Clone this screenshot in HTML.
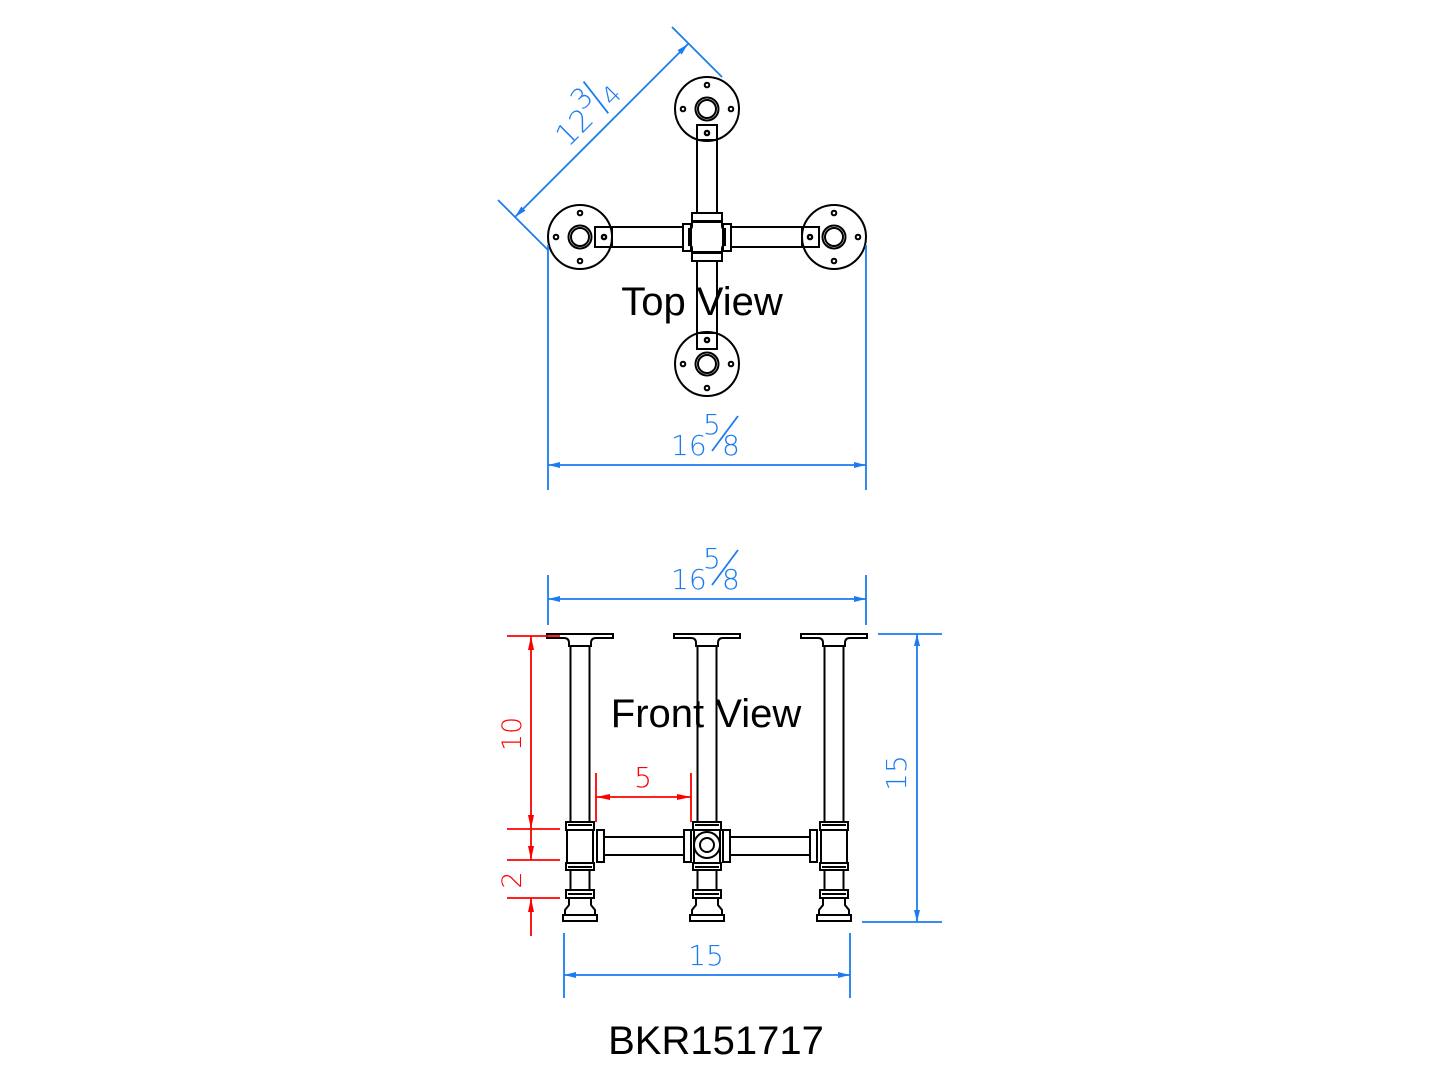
<!DOCTYPE html>
<html><head><meta charset="utf-8"><style>
html,body{margin:0;padding:0;background:#fff;}
svg{display:block;}
.k{fill:none;stroke:#000;stroke-width:2;}
.b{stroke:#1a7cf0;stroke-width:1.8;fill:none;}
.r{stroke:#f00;stroke-width:1.8;fill:none;}
.bt{fill:#1a7cf0;font-family:"DejaVu Sans","Liberation Sans",sans-serif;font-weight:200;}
.rt{fill:#f00;font-family:"DejaVu Sans","Liberation Sans",sans-serif;font-weight:200;}
.tt{fill:#000;font-family:"Liberation Sans",sans-serif;}
</style></head><body>
<svg width="1445" height="1084" viewBox="0 0 1445 1084" xmlns="http://www.w3.org/2000/svg">
<defs>
  <g id="fl">
    <circle class="k" cx="0" cy="0" r="32"/>
    <circle class="k" cx="0" cy="0" r="11.5"/>
    <circle class="k" cx="0" cy="0" r="9"/>
    <circle class="k" cx="-24" cy="0" r="2.3" stroke-width="1.3"/>
    <circle class="k" cx="24" cy="0" r="2.3" stroke-width="1.3"/>
    <circle class="k" cx="0" cy="-24" r="2.3" stroke-width="1.3"/>
    <circle class="k" cx="0" cy="24" r="2.3" stroke-width="1.3"/>
  </g>
  <g id="leg">
    <path class="k" d="M-33,634 H33 V638 H16 Q11,638 11,643 V646 H-11 V643 Q-11,638 -16,638 H-33 Z"/>
    <line class="k" x1="-11" y1="646" x2="11" y2="646"/>
    <line class="k" x1="-9.5" y1="646" x2="-9.5" y2="822"/>
    <line class="k" x1="9.5" y1="646" x2="9.5" y2="822"/>
    <rect class="k" x="-14" y="822" width="28" height="8"/>
    <line class="k" x1="-12" y1="825" x2="12" y2="825" stroke-width="1.2"/>
    <rect class="k" x="-13" y="830" width="26" height="33"/>
    <rect class="k" x="-14" y="863" width="28" height="7"/>
    <line class="k" x1="-12" y1="867" x2="12" y2="867" stroke-width="1.2"/>
    <line class="k" x1="-9.5" y1="870" x2="-9.5" y2="890"/>
    <line class="k" x1="9.5" y1="870" x2="9.5" y2="890"/>
    <rect class="k" x="-14" y="890" width="28" height="8"/>
    <line class="k" x1="-12" y1="894" x2="12" y2="894" stroke-width="1.2"/>
    <path class="k" d="M-11,898 V905 L-15,910 V915 M11,898 V905 L15,910 V915"/>
    <rect class="k" x="-17" y="915" width="34" height="6"/>
  </g>
  <marker id="ab" viewBox="0 0 12 6" refX="12" refY="3" markerWidth="12" markerHeight="6" orient="auto-start-reverse" markerUnits="userSpaceOnUse"><path d="M0,0 L12,3 L0,6 Z" fill="#1a7cf0"/></marker>
  <marker id="ar" viewBox="0 0 14 6" refX="14" refY="3" markerWidth="14" markerHeight="6" orient="auto-start-reverse" markerUnits="userSpaceOnUse"><path d="M0,0 L14,3 L0,6 Z" fill="#f00"/></marker>
</defs>

<!-- TOP VIEW -->
<use href="#fl" x="707" y="109"/>
<use href="#fl" x="580" y="237"/>
<use href="#fl" x="834" y="237"/>
<use href="#fl" x="707" y="364"/>
<rect class="k" x="595" y="227" width="88" height="20" fill="#fff"/>
<line class="k" x1="612" y1="227" x2="612" y2="247"/>
<circle class="k" cx="604" cy="237" r="2" stroke-width="1.3"/>
<rect class="k" x="731" y="227" width="88" height="20" fill="#fff"/>
<line class="k" x1="802" y1="227" x2="802" y2="247"/>
<circle class="k" cx="810" cy="237" r="2" stroke-width="1.3"/>
<rect class="k" x="697" y="125" width="20" height="88" fill="#fff"/>
<line class="k" x1="697" y1="140" x2="717" y2="140"/>
<circle class="k" cx="707" cy="133" r="2" stroke-width="1.3"/>
<rect class="k" x="697" y="261" width="20" height="88"/>
<line class="k" x1="697" y1="333" x2="717" y2="333"/>
<circle class="k" cx="707" cy="340" r="2" stroke-width="1.3"/>
<path class="k" d="M692,222 H722 V226 Q722,229 725,229 V245 Q722,245 722,249 V252 H692 V249 Q692,245 689,245 V229 Q692,229 692,226 Z"/>
<rect class="k" x="683" y="224" width="8" height="27"/>
<rect class="k" x="723" y="224" width="8" height="27"/>
<rect class="k" x="692" y="213" width="30" height="8"/>
<rect class="k" x="692" y="253" width="30" height="8"/>
<text class="tt" x="702" y="315" font-size="40" text-anchor="middle">Top View</text>

<!-- diagonal dim -->
<line class="b" x1="498" y1="200" x2="548" y2="250"/>
<line class="b" x1="672" y1="27" x2="722" y2="77"/>
<line class="b" x1="515" y1="217" x2="688" y2="44" marker-start="url(#ab)" marker-end="url(#ab)"/>
<g transform="translate(568,148) rotate(-45)">
  <text class="bt" x="0" y="0" font-size="30">12</text>
  <text class="bt" x="36" y="-16" font-size="28">3</text>
  <line class="b" x1="53" y1="4" x2="58" y2="-36"/>
  <text class="bt" x="60" y="2" font-size="25">4</text>
</g>

<!-- top view horizontal dim -->
<line class="b" x1="548" y1="245" x2="548" y2="490"/>
<line class="b" x1="866" y1="245" x2="866" y2="490"/>
<line class="b" x1="548" y1="465" x2="866" y2="465" marker-start="url(#ab)" marker-end="url(#ab)"/>
<text class="bt" x="671" y="455" font-size="28">16</text>
<text class="bt" x="703" y="434" font-size="28">5</text>
<line class="b" x1="712" y1="451" x2="738" y2="416"/>
<text class="bt" x="722" y="455" font-size="28">8</text>

<!-- FRONT VIEW -->
<line class="b" x1="548" y1="575" x2="548" y2="625"/>
<line class="b" x1="866" y1="575" x2="866" y2="625"/>
<line class="b" x1="548" y1="599" x2="866" y2="599" marker-start="url(#ab)" marker-end="url(#ab)"/>
<text class="bt" x="671" y="589" font-size="28">16</text>
<text class="bt" x="703" y="568" font-size="28">5</text>
<line class="b" x1="712" y1="585" x2="738" y2="550"/>
<text class="bt" x="722" y="589" font-size="28">8</text>

<use href="#leg" x="580" y="0"/>
<use href="#leg" x="707" y="0"/>
<use href="#leg" x="834" y="0"/>
<line class="k" x1="604" y1="837" x2="684" y2="837"/>
<line class="k" x1="604" y1="855" x2="684" y2="855"/>
<line class="k" x1="730" y1="837" x2="810" y2="837"/>
<line class="k" x1="730" y1="855" x2="810" y2="855"/>
<rect class="k" x="597" y="830" width="7" height="32" fill="#fff"/>
<rect class="k" x="684" y="830" width="7" height="32" fill="#fff"/>
<rect class="k" x="723" y="830" width="7" height="32" fill="#fff"/>
<rect class="k" x="810" y="830" width="7" height="32" fill="#fff"/>
<circle class="k" cx="707" cy="845" r="13" fill="#fff"/>
<circle class="k" cx="707" cy="845" r="7"/>
<text class="tt" x="706" y="727" font-size="40" text-anchor="middle">Front View</text>

<!-- red dims -->
<line class="r" x1="507" y1="636" x2="560" y2="636"/>
<line class="r" x1="507" y1="829" x2="560" y2="829"/>
<line class="r" x1="507" y1="860" x2="560" y2="860"/>
<line class="r" x1="507" y1="898" x2="560" y2="898"/>
<line class="r" x1="531" y1="636" x2="531" y2="829" marker-start="url(#ar)" marker-end="url(#ar)"/>
<line class="r" x1="531" y1="829" x2="531" y2="860" marker-end="url(#ar)"/>
<line class="r" x1="531" y1="898" x2="531" y2="936" marker-start="url(#ar)"/>
<text class="rt" transform="translate(521,734) rotate(-90)" font-size="27" text-anchor="middle">10</text>
<text class="rt" transform="translate(521,880) rotate(-90)" font-size="27" text-anchor="middle">2</text>
<line class="r" x1="596" y1="773" x2="596" y2="822"/>
<line class="r" x1="691" y1="773" x2="691" y2="822"/>
<line class="r" x1="596" y1="797" x2="691" y2="797" marker-start="url(#ar)" marker-end="url(#ar)"/>
<text class="rt" x="643" y="787" font-size="28" text-anchor="middle">5</text>

<!-- right dim -->
<line class="b" x1="878" y1="634" x2="942" y2="634"/>
<line class="b" x1="862" y1="922" x2="942" y2="922"/>
<line class="b" x1="917" y1="634" x2="917" y2="922" marker-start="url(#ab)" marker-end="url(#ab)"/>
<text class="bt" transform="translate(906,773) rotate(-90)" font-size="28" text-anchor="middle">15</text>

<!-- bottom dim -->
<line class="b" x1="564" y1="933" x2="564" y2="998"/>
<line class="b" x1="850" y1="933" x2="850" y2="998"/>
<line class="b" x1="564" y1="975" x2="850" y2="975" marker-start="url(#ab)" marker-end="url(#ab)"/>
<text class="bt" x="706" y="965" font-size="28" text-anchor="middle">15</text>

<text class="tt" x="716" y="1054" font-size="40" text-anchor="middle">BKR151717</text>
</svg>
</body></html>
